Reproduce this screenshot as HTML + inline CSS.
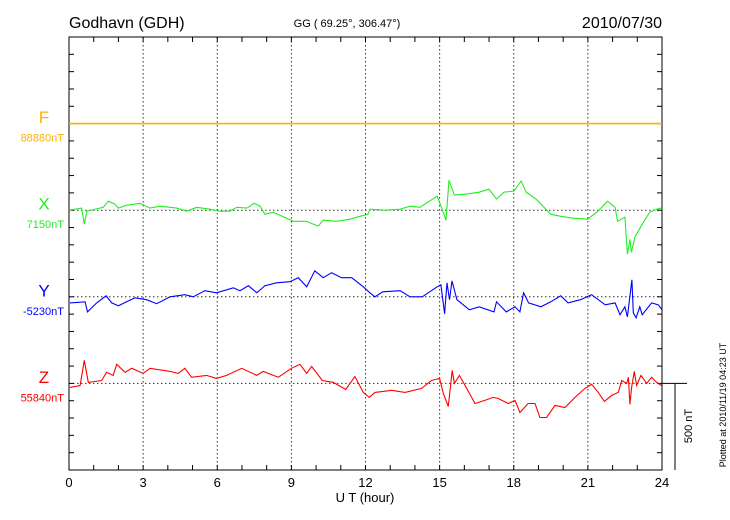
<!DOCTYPE html>
<html><head><meta charset="utf-8"><style>
html,body{margin:0;padding:0;background:#fff;}
svg{display:block;font-family:"Liberation Sans",sans-serif;}
</style></head><body>
<svg id="chart" width="730" height="520" viewBox="0 0 730 520">
<text x="69" y="28" font-size="16">Godhavn (GDH)</text>
<text x="347" y="27" font-size="11" text-anchor="middle">GG ( 69.25°, 306.47°)</text>
<text x="662" y="28" font-size="16" text-anchor="end">2010/07/30</text>
<g id="grid"></g>
<g id="axes"></g>
<g id="series"></g>
<text x="365" y="502" font-size="13" text-anchor="middle">U T (hour)</text>
<text transform="translate(692,426) rotate(-90)" font-size="11" text-anchor="middle">500 nT</text>
<text transform="translate(726,405) rotate(-90)" font-size="9" text-anchor="middle">Plotted at 2010/11/19 04:23 UT</text>
</svg>
<script>
const xTicks = [0,3,6,9,12,15,18,21,24];
const seriesNames = ["F","X","Y","Z"];
const baseLabels = ["88880nT","7150nT","-5230nT","55840nT"];
const fT = [0,24];
const fV = [0,0];
const xT = [0,0.51,0.62,0.72,1.39,1.59,1.86,2.0,2.33,2.87,3.28,3.68,4.36,4.76,5.17,5.7,6.1,6.5,6.8,7.2,7.5,7.73,7.93,8.27,8.54,9.08,9.6,10.09,10.29,10.83,11.37,11.78,12.1,12.18,12.8,13.4,13.8,14.2,14.9,15.1,15.26,15.38,15.6,16.0,16.6,17.0,17.3,17.6,18.0,18.3,18.5,18.9,19.5,19.9,20.4,21.0,21.4,21.8,22.1,22.2,22.5,22.6,22.7,22.76,22.9,23.2,23.5,23.9,24];
const xV = [0,12,-81,-6,17,52,35,12,29,40,12,23,12,-6,17,6,-6,-6,17,12,40,23,-23,-12,-29,-64,-64,-92,-58,-64,-52,-35,-23,6,0,6,23,17,81,6,-58,173,87,92,104,121,64,104,110,168,104,64,-23,-35,-46,-52,-6,52,17,-64,-40,-254,-168,-243,-156,-81,-12,12,6];
const yT = [0.04,0.65,0.75,1.12,1.5,1.73,2.0,2.33,2.67,3.14,3.55,4.09,4.69,5.03,5.5,5.97,6.65,6.92,7.26,7.6,7.93,8.4,8.94,9.28,9.62,9.95,10.29,10.63,11.03,11.44,11.91,12.18,12.38,12.7,13.4,13.8,14.3,14.6,14.9,15.05,15.2,15.3,15.4,15.5,15.7,15.96,16.2,16.6,17.2,17.3,17.7,18.05,18.25,18.4,18.6,19.1,19.5,19.9,20.2,20.7,21.15,21.7,22.1,22.3,22.5,22.6,22.78,22.84,22.95,23.1,23.2,23.58,23.85,24];
const yV = [-35,-29,-87,-35,6,-35,-52,-29,-6,-17,-40,0,12,0,35,23,52,35,64,23,64,81,87,110,58,150,110,139,110,110,58,23,0,29,35,0,0,29,58,69,-98,81,-17,92,-17,-46,-75,-58,-87,-29,-87,-58,-87,23,-35,-58,-29,6,-35,-17,12,-46,-35,-104,-58,-116,98,-92,-121,-58,-104,-35,-46,-75];
const zT = [0.04,0.45,0.62,0.78,1.32,1.52,1.79,1.93,2.27,2.54,3.0,3.28,4.09,4.42,4.69,4.96,5.57,5.97,6.38,6.99,7.6,7.86,8.47,9.0,9.35,9.62,9.82,10.25,10.7,11.2,11.57,11.91,12.15,12.38,13.06,13.6,14.27,14.67,15.0,15.15,15.35,15.51,15.6,15.8,16.03,16.43,16.83,17.17,17.37,17.78,18.05,18.25,18.58,18.86,19.06,19.33,19.67,20.07,20.48,20.88,21.15,21.42,21.67,21.96,22.23,22.37,22.57,22.64,22.7,22.77,22.88,22.97,23.15,23.38,23.58,23.78,23.98];
const zV = [-23,-12,133,6,17,64,46,110,64,87,58,87,69,58,87,35,46,29,46,87,46,69,35,87,110,58,98,17,6,-35,40,-52,-81,-52,-40,-52,-29,17,29,-58,-133,75,0,46,-12,-116,-98,-81,-87,-116,-98,-168,-116,-116,-197,-197,-127,-139,-81,-29,-6,-52,-104,-69,-52,17,0,35,-121,-23,69,-12,46,0,35,6,-12];

const NS="http://www.w3.org/2000/svg";
const L=69,R=662,T=37,B=470;
const step=(B-T)/25;
const pxPerNT=step/100;
const baseY=[T+5*step,T+10*step,T+15*step,T+20*step];
const colors=["#ffb000","#22ee22","#0000ff","#ff0000"];
const widths=[1.6,1.1,1.1,1.1];
const xs=h=>L+(R-L)*h/24;
const ys=(i,v)=>baseY[i]-v*pxPerNT;
function mk(tag,attrs,parent){const e=document.createElementNS(NS,tag);for(const k in attrs)e.setAttribute(k,attrs[k]);parent.appendChild(e);return e;}
const grid=document.getElementById('grid'),axes=document.getElementById('axes'),ser=document.getElementById('series');
xTicks.slice(1,-1).forEach(h=>{
 const g=mk('line',{x1:xs(h),x2:xs(h),y1:T,y2:B,stroke:'#333','stroke-width':1,'stroke-dasharray':'1.5,2.5'},grid);
 
 
});
baseY.forEach(y=>{
 const g=mk('line',{x1:L,x2:R,y1:y,y2:y,stroke:'#333','stroke-width':1,'stroke-dasharray':'1.5,2.5'},grid);
 
 
});
const frame=mk('rect',{x:L,y:T,width:R-L,height:B-T,fill:'none',stroke:'#000','stroke-width':1},axes);


for(let h=1;h<24;h++){
 mk('line',{x1:xs(h),x2:xs(h),y1:T,y2:T+5,stroke:'#000'},axes);
 mk('line',{x1:xs(h),x2:xs(h),y1:B,y2:B-5,stroke:'#000'},axes);
}
for(let k=1;k<25;k++){
 const y=T+k*step;
 mk('line',{x1:L,x2:L+5,y1:y,y2:y,stroke:'#000'},axes);
 mk('line',{x1:R,x2:R-5,y1:y,y2:y,stroke:'#000'},axes);
}
xTicks.forEach(h=>{
 const t=mk('text',{x:xs(h),y:487,'font-size':13,'text-anchor':'middle'},axes);
 t.textContent=h;
 
 
});
const sb=mk('path',{d:`M${R} ${baseY[3]}H${R+25}M${R+13} ${baseY[3]}V${B}`,stroke:'#000',fill:'none'},axes);


const Ts=[fT,xT,yT,zT],Vs=[fV,xV,yV,zV];
seriesNames.forEach((n,i)=>{
 const a=mk('text',{x:44,y:baseY[i]-0.5,'font-size':17,'text-anchor':'middle',fill:colors[i]},axes);
 a.textContent=n;
 
 
 const b=mk('text',{x:64,y:baseY[i]+18,'font-size':11,'text-anchor':'end',fill:colors[i]},axes);
 b.textContent=baseLabels[i];
 
 
 const d=Ts[i].map((t,j)=>(j?'L':'M')+xs(t).toFixed(1)+' '+ys(i,Vs[i][j]).toFixed(1)).join('');
 const p=mk('path',{d:d,fill:'none',stroke:colors[i],'stroke-width':widths[i]},ser);
 
 
});
</script>
</body></html>
